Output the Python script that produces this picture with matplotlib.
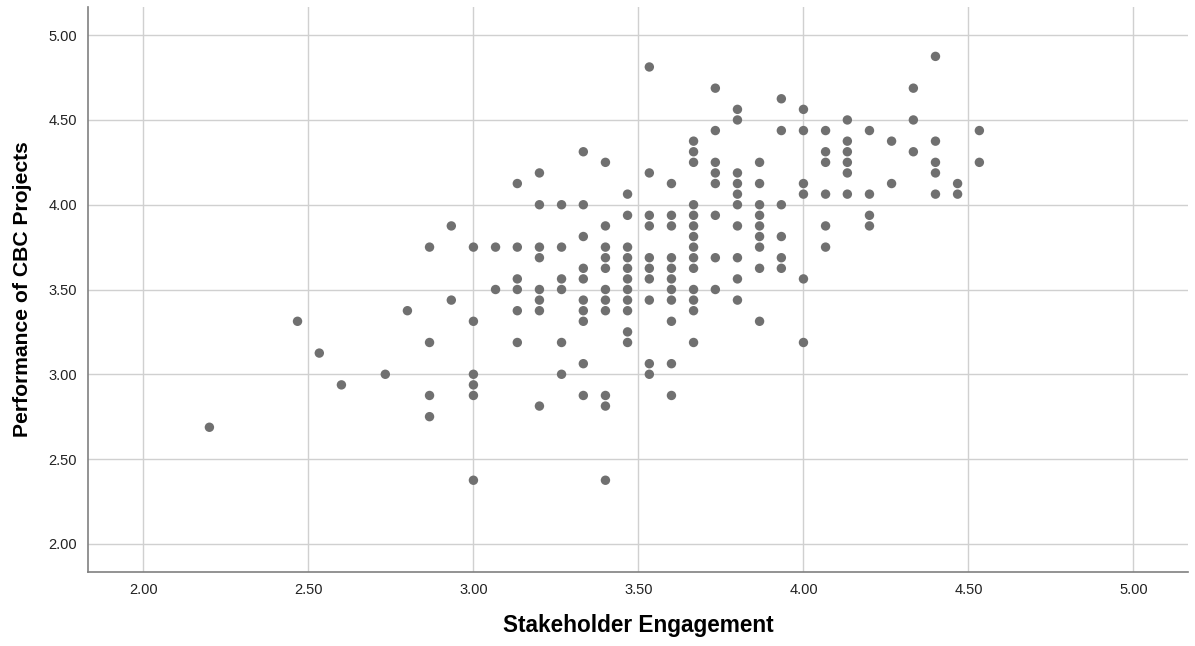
"""Scatter: Stakeholder Engagement vs Performance of CBC Projects."""
import matplotlib.pyplot as plt
import numpy as np

plt.rcParams["font.family"] = ["Liberation Sans", "DejaVu Sans"]

# engagement score (mean of 15 items) and the performance scores seen at that level
engagement = [
    2.200, 2.467, 2.533, 2.600, 2.733, 2.800, 2.867, 2.933, 3.000, 3.067,
    3.133, 3.200, 3.267, 3.333, 3.400, 3.467, 3.533, 3.600, 3.667, 3.733,
    3.800, 3.867, 3.933, 4.000, 4.067, 4.133, 4.200, 4.267, 4.333, 4.400,
    4.467, 4.533,
]
performance = [
    [2.6875],
    [3.3125],
    [3.125],
    [2.9375],
    [3.0],
    [3.375],
    [3.75, 3.1875, 2.875, 2.75],
    [3.875, 3.4375],
    [3.75, 3.3125, 3.0, 2.9375, 2.875, 2.375],
    [3.75, 3.5],
    [4.125, 3.75, 3.5625, 3.5, 3.375, 3.1875],
    [4.1875, 4.0, 3.75, 3.6875, 3.5, 3.4375, 3.375, 2.8125],
    [4.0, 3.75, 3.5625, 3.5, 3.1875, 3.0],
    [4.3125, 4.0, 3.8125, 3.625, 3.5625, 3.4375, 3.375, 3.3125, 3.0625, 2.875],
    [4.25, 3.875, 3.75, 3.6875, 3.625, 3.5, 3.4375, 3.375, 2.875, 2.8125, 2.375],
    [4.0625, 3.9375, 3.75, 3.6875, 3.625, 3.5625, 3.5, 3.4375, 3.375, 3.25, 3.1875],
    [4.8125, 4.1875, 3.9375, 3.875, 3.6875, 3.625, 3.5625, 3.4375, 3.0625, 3.0],
    [4.125, 3.9375, 3.875, 3.6875, 3.625, 3.5625, 3.5, 3.4375, 3.3125, 3.0625, 2.875],
    [4.375, 4.3125, 4.25, 4.0, 3.9375, 3.875, 3.8125, 3.75, 3.6875, 3.625,
     3.5, 3.4375, 3.375, 3.1875],
    [4.6875, 4.4375, 4.25, 4.1875, 4.125, 3.9375, 3.6875, 3.5],
    [4.5625, 4.5, 4.1875, 4.125, 4.0625, 4.0, 3.875, 3.6875, 3.5625, 3.4375],
    [4.25, 4.125, 4.0, 3.9375, 3.875, 3.8125, 3.75, 3.625, 3.3125],
    [4.625, 4.4375, 4.0, 3.8125, 3.6875, 3.625],
    [4.5625, 4.4375, 4.125, 4.0625, 3.5625, 3.1875],
    [4.4375, 4.3125, 4.25, 4.0625, 3.875, 3.75],
    [4.5, 4.375, 4.3125, 4.25, 4.1875, 4.0625],
    [4.4375, 4.0625, 3.9375, 3.875],
    [4.375, 4.125],
    [4.6875, 4.5, 4.3125],
    [4.875, 4.375, 4.25, 4.1875, 4.0625],
    [4.125, 4.0625],
    [4.4375, 4.25],
]
ticks = [2.0, 2.5, 3.0, 3.5, 4.0, 4.5, 5.0]


def main() -> None:
    x = np.concatenate([[e] * len(p) for e, p in zip(engagement, performance)])
    y = np.concatenate(performance)

    fig = plt.figure(figsize=(11.95, 6.46), dpi=100)
    ax = fig.add_axes([0.0736, 0.1146, 0.9205, 0.8745])

    ax.scatter(x, y, s=46, color="#707070", edgecolors="none", zorder=3)

    ax.set_xlim(1.832, 5.165)
    ax.set_ylim(1.834, 5.166)
    ax.set_xticks(ticks)
    ax.set_yticks(ticks)
    ax.set_xticklabels([f"{t:.2f}" for t in ticks])
    ax.set_yticklabels([f"{t:.2f}" for t in ticks])
    ax.tick_params(length=0, labelsize=10.5, labelcolor="#222222")
    ax.tick_params(axis="x", pad=8)
    ax.tick_params(axis="y", pad=8)
    ax.grid(True, color="#d0d0d0", linewidth=1.0, zorder=0)
    ax.set_axisbelow(True)

    for side in ("top", "right"):
        ax.spines[side].set_visible(False)
    for side in ("left", "bottom"):
        ax.spines[side].set_color("#808080")
        ax.spines[side].set_linewidth(1.2)

    ax.set_xlabel("Stakeholder Engagement", fontsize=16.3, fontweight="bold", labelpad=12)
    ax.set_ylabel("Performance of CBC Projects", fontsize=15.2, fontweight="bold", labelpad=12)

    fig.savefig("out.png", dpi=100)
    plt.close(fig)


if __name__ == "__main__":
    main()
